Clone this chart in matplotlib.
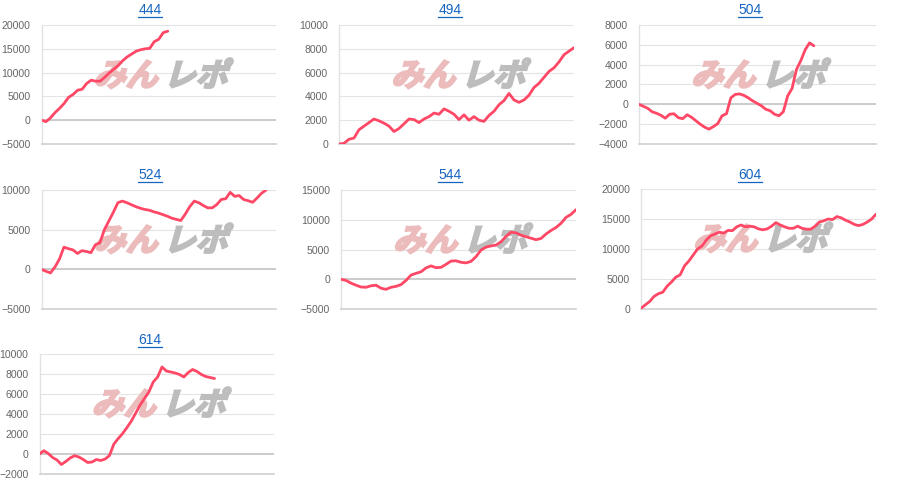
import numpy as np
import matplotlib
matplotlib.use("Agg")
import matplotlib.pyplot as plt
from matplotlib.textpath import TextPath
from matplotlib.font_manager import FontProperties
from matplotlib.patches import PathPatch
from matplotlib.transforms import Affine2D
from matplotlib.lines import Line2D

plt.rcParams['font.family'] = ['Liberation Sans', 'DejaVu Sans']

W, H = 900, 495

# machine numbers
titles = ["444", "494", "504", "524", "544", "604", "614"]

# cumulative difference per step
vals_444 = [0, -300, 500, 1600, 2500, 3500, 4800, 5400, 6300, 6500, 7700, 8400, 8200, 8200,
            9000, 9900, 10700, 11500, 12500, 13300, 13900, 14500, 14800, 15000, 15100, 16500,
            17000, 18400, 18700]
vals_494 = [0, 50, 400, 500, 1200, 1500, 1800, 2100, 1950, 1750, 1500, 1050, 1300, 1700, 2100,
            2050, 1800, 2100, 2300, 2600, 2500, 2950, 2750, 2500, 2050, 2450, 2000, 2300, 2000,
            1900, 2400, 2750, 3300, 3650, 4250, 3700, 3500, 3700, 4100, 4750, 5100, 5600, 6100,
            6400, 6900, 7500, 7800, 8100]
vals_504 = [0, -200, -400, -750, -900, -1100, -1400, -1000, -950, -1350, -1450, -1050, -1300,
            -1650, -2000, -2300, -2500, -2250, -1950, -1150, -950, 650, 1000, 1050, 900, 650,
            350, 100, -150, -500, -650, -1000, -1150, -750, 850, 1600, 3500, 4400, 5500, 6200,
            5900]
vals_524 = [0, -250, -450, 300, 1300, 2800, 2600, 2450, 2000, 2350, 2250, 2100, 3100, 3350,
            5000, 6100, 7200, 8400, 8600, 8400, 8150, 7900, 7700, 7550, 7450, 7250, 7100, 6900,
            6700, 6450, 6300, 6150, 6950, 7900, 8600, 8400, 8050, 7750, 7750, 8150, 8800, 8900,
            9700, 9200, 9300, 8800, 8650, 8450, 9000, 9600, 10000]
vals_544 = [0, -200, -650, -1000, -1300, -1350, -1100, -1000, -1500, -1700, -1350, -1200, -900,
            -200, 700, 1000, 1250, 1900, 2250, 1950, 2000, 2500, 3050, 3100, 2850, 2750, 3000,
            3800, 4900, 5400, 5600, 5750, 6300, 7200, 7900, 7800, 7400, 7150, 6900, 6650, 6850,
            7600, 8200, 8700, 9400, 10400, 10900, 11700]
vals_604 = [100, 700, 1250, 2100, 2550, 2800, 3800, 4500, 5300, 5700, 7200, 8000, 9000, 10000,
            10500, 11500, 12200, 12500, 12800, 12650, 13100, 13050, 13700, 14000, 13700, 13800,
            13700, 13350, 13200, 13350, 13800, 14400, 14000, 13700, 13450, 13450, 13800, 13450,
            13300, 13300, 13800, 14500, 14700, 15000, 14900, 15400, 15200, 14800, 14500, 14100,
            13900, 14100, 14500, 15000, 15800]
vals_614 = [0, 330, 50, -350, -600, -1050, -750, -400, -170, -300, -550, -850, -800, -550, -650,
            -500, -150, 1000, 1550, 2050, 2650, 3300, 4100, 4900, 5550, 6200, 7200, 7700, 8700,
            8300, 8200, 8100, 7950, 7700, 8150, 8450, 8250, 7950, 7750, 7650, 7550]

series = [vals_444, vals_494, vals_504, vals_524, vals_544, vals_604, vals_614]
x_max = [52, 47, 54.2, 52.2, 47, 54, 53.6]
y_ticks = [np.arange(-5000, 20001, 5000), np.arange(0, 10001, 2000), np.arange(-4000, 8001, 2000),
           np.arange(-5000, 10001, 5000), np.arange(-5000, 15001, 5000), np.arange(0, 20001, 5000),
           np.arange(-2000, 10001, 2000)]

# axes boxes in pixels: left, right, top, bottom
boxes = [(41.5, 276, 25, 144), (339, 574, 25, 144), (639, 876, 25, 144),
         (41.5, 276, 190, 309), (341, 576, 190, 309), (641, 876, 189, 309),
         (39.5, 274, 354, 474)]
title_pos = [(150, 10), (450, 10), (750, 10), (150, 175), (450, 175), (750, 175), (150, 340)]

fig = plt.figure(figsize=(W / 100, H / 100), dpi=100)
fig.patch.set_facecolor('white')

wm_font = FontProperties(family='Noto Sans CJK JP', weight='bold')


def watermark(ax, left, top):
    # "みんレポ" logo, slanted, behind the line
    for txt, col, dx in [("みん", "#ecbcbc", 52), ("レポ", "#bdbdbd", 122)]:
        tp = TextPath((0, 0), txt, size=32, prop=wm_font)
        tr = Affine2D().skew_deg(16, 0).translate(left + dx, H - (top + 61)) \
            + Affine2D().scale(1 / W, 1 / H) + fig.transFigure
        ax.add_patch(PathPatch(tp, transform=tr, facecolor=col, edgecolor=col,
                               linewidth=1.6, zorder=1.5))


title_texts = []
for i in range(len(series)):
    l, r, t, b = boxes[i]
    ax = fig.add_axes([l / W, 1 - b / H, (r - l) / W, (b - t) / H])
    yt = y_ticks[i]
    ax.set_xlim(0, x_max[i])
    ax.set_ylim(yt[0], yt[-1])
    ax.set_yticks(yt)
    ax.set_xticks([])
    ax.tick_params(axis='y', length=0, pad=8, labelsize=7.6, labelcolor='#666666')
    for s in ['top', 'right']:
        ax.spines[s].set_visible(False)
    ax.spines['left'].set_color('#e2e2e2')
    ax.spines['left'].set_linewidth(1)
    ax.spines['bottom'].set_color('#d0d0d0')
    ax.spines['bottom'].set_linewidth(1.2)
    ax.grid(axis='y', color='#e4e4e4', linewidth=0.8)
    ax.set_axisbelow(True)
    if yt[0] < 0:
        ax.axhline(0, color='#cccccc', linewidth=1.4, zorder=1)
    watermark(ax, l, t)
    v = series[i]
    ax.plot(np.arange(len(v)), v, color='#ff4766', linewidth=2.0, zorder=3,
            solid_joinstyle='round', solid_capstyle='round')
    tx, ty = title_pos[i]
    title_texts.append(fig.text(tx / W, 1 - ty / H, titles[i], color='#1565c0',
                                fontsize=10, ha='center', va='center'))

# underline the titles (they are links)
fig.canvas.draw()
rend = fig.canvas.get_renderer()
for tt in title_texts:
    bb = tt.get_window_extent(rend)
    yline = (bb.y0 + 0.5) / H
    fig.add_artist(Line2D([bb.x0 / W, bb.x1 / W], [yline, yline], color='#1565c0',
                          linewidth=0.9, transform=fig.transFigure))

fig.savefig('out.png', dpi=100, facecolor='white')
